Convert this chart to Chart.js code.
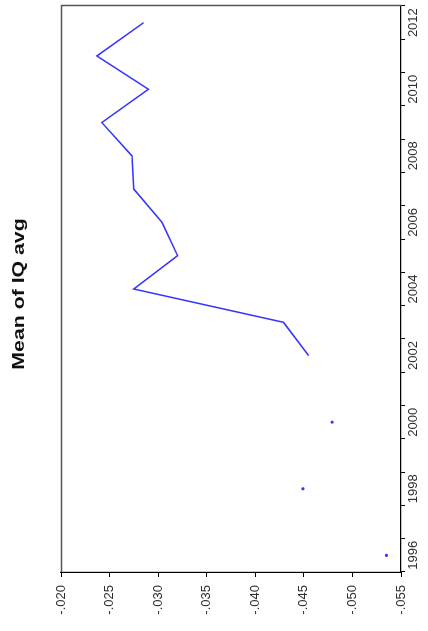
<!DOCTYPE html>
<html>
<head>
<meta charset="utf-8">
<script src="https://cdn.jsdelivr.net/npm/chart.js@4.4.1/dist/chart.umd.min.js"></script>
<style>
  html, body { margin: 0; padding: 0; background: #fff; overflow: hidden; }
  /* the chart is laid out landscape and turned a quarter turn counter-clockwise */
  #wrap {
    position: absolute; left: 0; top: 0;
    width: 631px; height: 428px;
    transform-origin: 0 0;
    transform: translateY(631px) rotate(-90deg);
  }
  #c { display: block; }
</style>
</head>
<body>
<div id="wrap"><canvas id="c" width="631" height="428"></canvas></div>
<script>
// Years on the category axis
const years = ['1996', '1997', '1998', '1999', '2000', '2001', '2002', '2003',
               '2004', '2005', '2006', '2007', '2008', '2009', '2010', '2011', '2012'];

// Mean of IQ avg per year (null = no data that year)
const iqAvg = [-0.0535, null, -0.0449, null, -0.0479, null, -0.0455, -0.0429,
               -0.0275, -0.0320, -0.0304, -0.0275, -0.0273, -0.0242, -0.0290, -0.0237, -0.0285];

// Value axis range and step
const valueMin = -0.055;
const valueMax = -0.020;
const valueStep = 0.005;

const titleText = 'Mean of IQ avg';

// Years that carry a label on the axis
const labelledYears = ['1996', '1998', '2000', '2002', '2004', '2006', '2008', '2010', '2012'];

const lineBlue = '#3535ff';
const textGrey = '#2e2e2e';

// a lone value with no neighbours gets a dot, connected values get none
function isolated(i) {
  const prev = i > 0 ? iqAvg[i - 1] : null;
  const next = i < iqAvg.length - 1 ? iqAvg[i + 1] : null;
  return iqAvg[i] !== null && prev === null && next === null;
}

function fmtValue(v) {
  const s = Math.abs(v).toFixed(3).replace(/^0/, '');
  return (v < 0 ? '-' : '') + s;
}

const framePlugin = {
  id: 'frameAndTitle',
  afterDraw(chart) {
    const { ctx, chartArea: a } = chart;
    ctx.save();
    ctx.strokeStyle = '#555555';
    ctx.lineWidth = 1.5;
    ctx.beginPath();
    ctx.moveTo(a.left, a.top + 0.5);
    ctx.lineTo(a.right + 0.5, a.top + 0.5);
    ctx.lineTo(a.right + 0.5, a.bottom);
    ctx.stroke();

    // wide bold heading above the plot
    ctx.fillStyle = '#111111';
    ctx.font = 'bold 16px "Liberation Sans", Arial, sans-serif';
    ctx.textAlign = 'center';
    ctx.textBaseline = 'alphabetic';
    const cx = (a.left + a.right) / 2 - 5;
    ctx.translate(cx, 24);
    ctx.scale(1.33, 1);
    ctx.fillText(titleText, 0, 0);
    ctx.restore();
  }
};

new Chart(document.getElementById('c'), {
  type: 'line',
  data: {
    labels: years,
    datasets: [{
      label: titleText,
      data: iqAvg,
      borderColor: lineBlue,
      backgroundColor: lineBlue,
      borderWidth: 1.5,
      spanGaps: false,
      tension: 0,
      pointRadius: ctx => isolated(ctx.dataIndex) ? 1.6 : 0,
      pointHoverRadius: 0,
      pointBorderWidth: 0
    }]
  },
  options: {
    responsive: false,
    animation: false,
    events: [],
    layout: { padding: { top: 61, right: 6, left: 0, bottom: 0 } },
    plugins: {
      legend: { display: false },
      title: { display: false },
      tooltip: { enabled: false }
    },
    scales: {
      x: {
        type: 'category',
        offset: true,
        grid: { offset: true, drawOnChartArea: false, drawTicks: true, tickLength: 4, color: '#000' },
        border: { display: true, color: '#000', width: 1.2 },
        ticks: {
          autoSkip: false,
          maxRotation: 0,
          minRotation: 0,
          padding: 1,
          color: textGrey,
          font: { family: '"Liberation Sans", Arial, sans-serif', size: 13 },
          callback(value, index) {
            const y = years[index];
            return labelledYears.includes(y) ? y : '';
          }
        },
        afterFit(scale) { scale.height = 27; }
      },
      y: {
        min: valueMin,
        max: valueMax,
        grid: { drawOnChartArea: false, drawTicks: true, tickLength: 5, color: '#000' },
        border: { display: true, color: '#000', width: 1.2 },
        ticks: {
          stepSize: valueStep,
          padding: 8,
          color: textGrey,
          font: { family: '"Liberation Sans", Arial, sans-serif', size: 13 },
          callback: v => fmtValue(v)
        },
        afterFit(scale) { scale.width = 59; }
      }
    }
  },
  plugins: [framePlugin]
});
</script>
</body>
</html>
